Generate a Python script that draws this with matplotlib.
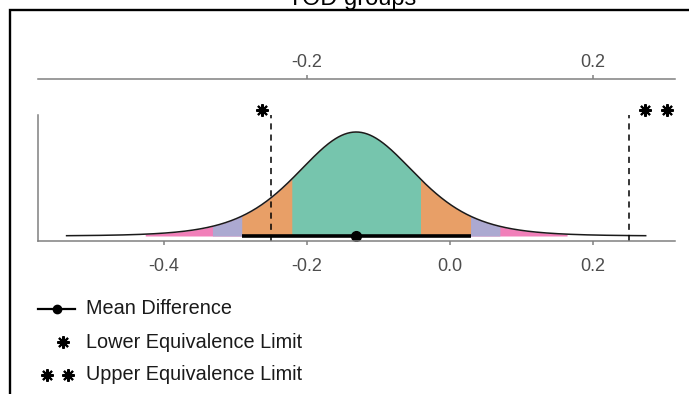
import math
import numpy as np
import matplotlib
matplotlib.use("Agg")
import matplotlib.pyplot as plt
import matplotlib.transforms as mtransforms
from matplotlib.colors import to_rgb
from matplotlib.lines import Line2D
from matplotlib.patches import Rectangle

plt.rcParams['font.family'] = ['Liberation Sans', 'DejaVu Sans']
plt.rcParams['axes.unicode_minus'] = False

title = "TOD groups"
mean_diff = -0.131
t_scale = 0.0844
t_df = 7
curve_range = [-0.536, 0.274]
# shaded intervals, inner to outer
band_lower = [-0.221, -0.291, -0.332, -0.426]
band_upper = [-0.041, 0.029, 0.070, 0.164]
band_colors = ["#1b9e77", "#d95f02", "#7570b3", "#e7298a"]
ci_bar = [-0.291, 0.029]
equiv_limits = [-0.25, 0.25]
bottom_ticks = [-0.4, -0.2, 0.0, 0.2]
top_ticks = [-0.2, 0.2]
legend_labels = ["Mean Difference", "Lower Equivalence Limit", "Upper Equivalence Limit"]

W, H = 689, 394
AXIS_GREY = "#808080"
LABEL_GREY = "#4d4d4d"
STAR = (8, 2, 0)


def t_density(x):
    z = (x - mean_diff) / t_scale
    c = math.gamma((t_df + 1) / 2) / (math.sqrt(t_df * math.pi) * math.gamma(t_df / 2)) / t_scale
    return c * (1 + z ** 2 / t_df) ** (-(t_df + 1) / 2)


def faded(c, a=0.6):
    r, g, b = to_rgb(c)
    return (a * r + 1 - a, a * g + 1 - a, a * b + 1 - a)


def fx(px):
    return px / W


def fy(py):
    return 1 - py / H


fig = plt.figure(figsize=(W / 100, H / 100), dpi=100)

ax = fig.add_axes([fx(38), fy(241), (675 - 38) / W, (241 - 115) / H])
xs = np.linspace(curve_range[0], curve_range[1], 800)
dens = t_density(xs)
peak = dens.max()

# outer bands first, inner drawn on top
for lo, hi, col in reversed(list(zip(band_lower, band_upper, band_colors))):
    xb = np.linspace(lo, hi, 400)
    ax.fill_between(xb, 0, t_density(xb), color=faded(col), lw=0)
ax.plot(xs, dens, color="#1a1a1a", lw=1.1)

ax.plot(ci_bar, [0, 0], color="black", lw=2.6, solid_capstyle="butt")
ax.plot([mean_diff], [0], "o", color="black", ms=7)

for lim in equiv_limits:
    ax.axvline(lim, ymin=0, ymax=1, color="black", lw=1.1, ls=(0, (4, 3.3)))

star_trans = mtransforms.blended_transform_factory(ax.transData, ax.transAxes)
for lim, offsets in zip(equiv_limits, [[-6.8], [11.5, 28.0]]):
    for off in offsets:
        tr = mtransforms.offset_copy(star_trans, fig=fig, x=off, y=0, units="points")
        ax.plot([lim], [1.04], marker=STAR, color="black", ms=9, mew=1.5,
                transform=tr, clip_on=False, ls="none")

ax.set_xlim(-0.576, 0.315)
ax.set_ylim(-5 / 104 * peak, 121 / 104 * peak)
for s in ["top", "right"]:
    ax.spines[s].set_visible(False)
for s in ["left", "bottom"]:
    ax.spines[s].set_color(AXIS_GREY)
    ax.spines[s].set_linewidth(1.1)
ax.set_yticks([])
ax.set_xticks(bottom_ticks)
ax.set_xticklabels([f"{t:.1f}" for t in bottom_ticks])
ax.tick_params(axis="x", length=3, width=1.1, color=AXIS_GREY, labelcolor=LABEL_GREY,
               labelsize=13, pad=9)

# secondary axis line on top
axt = fig.add_axes([fx(38), fy(79), (675 - 38) / W, 0.0001])
axt.set_xlim(ax.get_xlim())
for s in ["bottom", "left", "right"]:
    axt.spines[s].set_visible(False)
axt.spines["top"].set_color(AXIS_GREY)
axt.spines["top"].set_linewidth(1.1)
axt.set_yticks([])
axt.xaxis.tick_top()
axt.set_xticks(top_ticks)
axt.set_xticklabels([f"{t:.1f}" for t in top_ticks])
axt.tick_params(axis="x", length=3, width=1.1, color=AXIS_GREY, labelcolor=LABEL_GREY,
                labelsize=13, pad=3)
axt.patch.set_visible(False)

# legend, drawn by hand
rows = [309, 342, 375]
fig.add_artist(Line2D([fx(38), fx(75)], [fy(rows[0])] * 2, color="black", lw=1.6,
                      transform=fig.transFigure))
fig.add_artist(Line2D([fx(57)], [fy(rows[0])], marker="o", ms=6, color="black",
                      transform=fig.transFigure))
fig.add_artist(Line2D([fx(63)], [fy(rows[1])], marker=STAR, ms=9, mew=1.5, color="black",
                      ls="none", transform=fig.transFigure))
fig.add_artist(Line2D([fx(47), fx(68)], [fy(rows[2])] * 2, marker=STAR, ms=9, mew=1.5,
                      color="black", ls="none", transform=fig.transFigure))
for r, lab in zip(rows, legend_labels):
    fig.text(fx(86), fy(r), lab, fontsize=14.3, color="#1a1a1a", va="center", ha="left")

fig.text(fx(352), fy(5), title, fontsize=17, ha="center", va="baseline", color="black")
fig.add_artist(Rectangle((fx(9.5), -0.2), 1.5, fy(10) + 0.2, transform=fig.transFigure,
                         fill=False, ec="black", lw=1.7))

fig.savefig("out.png", dpi=100)
